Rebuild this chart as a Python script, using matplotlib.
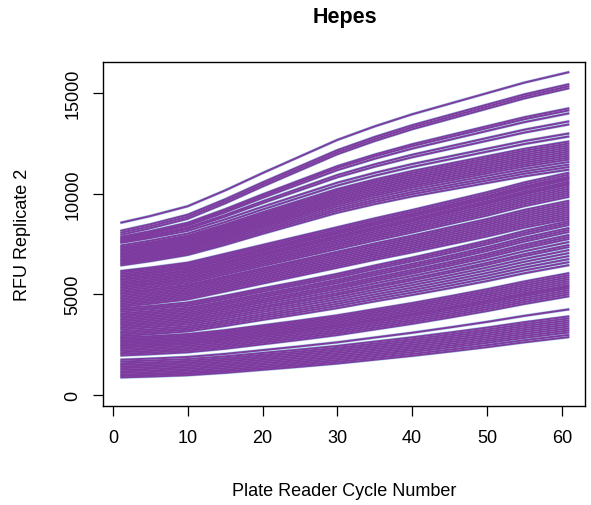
import numpy as np
from matplotlib import pyplot as plt

plt.rcParams['font.family'] = ['Liberation Sans', 'DejaVu Sans']

cycles = [1, 5, 10, 15, 20, 25, 30, 35, 40, 45, 50, 55, 61]

# fraction of each well's rise reached at those cycles (read per group)
upper_shape = [0, 0.045, 0.11, 0.215, 0.33, 0.44, 0.55, 0.64, 0.72, 0.79, 0.86, 0.93, 1.0]
mid_shape = [0, 0.035, 0.085, 0.175, 0.265, 0.355, 0.445, 0.535, 0.62, 0.71, 0.80, 0.90, 1.0]
midlow_shape = [0, 0.028, 0.068, 0.145, 0.23, 0.31, 0.395, 0.49, 0.58, 0.675, 0.775, 0.885, 1.0]
lower_shape = [0, 0.022, 0.055, 0.115, 0.19, 0.265, 0.345, 0.44, 0.535, 0.64, 0.75, 0.87, 1.0]

# RFU at first and last cycle, by group of wells
top_start = [8550, 8150, 8050, 7950, 7850, 7780, 7720, 7660, 7600, 7550]
top_end = [16050, 15450, 15350, 15250, 14250, 14150, 14000, 13600, 13450, 13000]

upper_start = [7420, 7340, 7270, 7200, 7130, 7060, 6990, 6920, 6850, 6780,
               6710, 6640, 6570, 6500, 6430]
upper_end = [12850, 12600, 12500, 12400, 12300, 12200, 12100, 12000, 11900, 11800,
             11700, 11580, 11450, 11330, 11200]

main_start = [6150, 6080, 6000, 5920, 5850, 5770, 5700, 5620, 5540, 5470,
              5390, 5320, 5240, 5160, 5080, 5010, 4930, 4850, 4770, 4690,
              4610, 4530, 4450, 4370]
main_end = [11050, 10950, 10850, 10780, 10700, 10600, 10520, 10450, 10350, 10250,
            10150, 10050, 9950, 9850, 9650, 9550, 9450, 9350, 9250, 9150,
            9050, 8950, 8850, 8750]

midlow_start = [4290, 4210, 4130, 4040, 3960, 3880, 3800, 3720, 3640, 3560,
                3480, 3400, 3320, 3240, 3150, 3070, 2990, 2910]
midlow_end = [8650, 8550, 8450, 8300, 8200, 8100, 7950, 7850, 7750, 7600,
              7450, 7350, 7200, 7050, 6900, 6750, 6600, 6450]

low_start = [2840, 2770, 2700, 2630, 2560, 2490, 2420, 2350, 2270, 2190,
             2110, 2030, 1950]
low_end = [6050, 5950, 5850, 5750, 5650, 5550, 5450, 5380, 5300, 5200,
           5100, 5000, 4900]

bottom_start = [1740, 1650, 1560, 1480, 1400, 1320, 1240, 1160, 1080, 1000, 930, 860]
bottom_end = [4250, 3900, 3800, 3700, 3600, 3500, 3400, 3300, 3200, 3100, 2980, 2870]

groups = [(top_start, top_end, upper_shape),
          (upper_start, upper_end, upper_shape),
          (main_start, main_end, mid_shape),
          (midlow_start, midlow_end, midlow_shape),
          (low_start, low_end, lower_shape),
          (bottom_start, bottom_end, lower_shape)]

wells = []
for starts, ends, shape in groups:
    for s, e in zip(starts, ends):
        wells.append(s + (e - s) * np.array(shape))

figure = plt.figure(dpi=100, figsize=(5.91, 5.06))
ax = figure.add_axes([0.1743, 0.1957, 0.8156, 0.6798])

# raw readings (light blue) underneath, fitted curves (purple) on top
for w in wells:
    ax.plot(cycles, w, color='#a8cfe6', linewidth=2.2, solid_capstyle='butt')
for w in wells:
    ax.plot(cycles, w, color='#7e3a9e', linewidth=1.4, solid_capstyle='butt')

ax.set_xlim(-1.32, 63.1)
ax.set_ylim(-560, 16550)
ax.set_xticks([0, 10, 20, 30, 40, 50, 60])
ax.set_yticks([0, 5000, 10000, 15000])
ax.tick_params(direction='out', length=7.5, width=0.9, labelsize=13, pad=8)
ax.tick_params(axis='x', pad=9)
plt.yticks(rotation=90, va='center')
for sp in ax.spines.values():
    sp.set_linewidth(1.0)

ax.set_xlabel('Plate Reader Cycle Number', fontsize=13, va='center')
ax.xaxis.set_label_coords(0.5, -0.245)
ax.set_ylabel('RFU Replicate 2', fontsize=13, va='center')
ax.yaxis.set_label_coords(-0.166, 0.5)
figure.text(0.583, 1 - 18 / 506, 'Hepes', ha='center', va='center',
            fontsize=15.5, fontweight='bold')

plt.savefig('out.png', dpi=100)
